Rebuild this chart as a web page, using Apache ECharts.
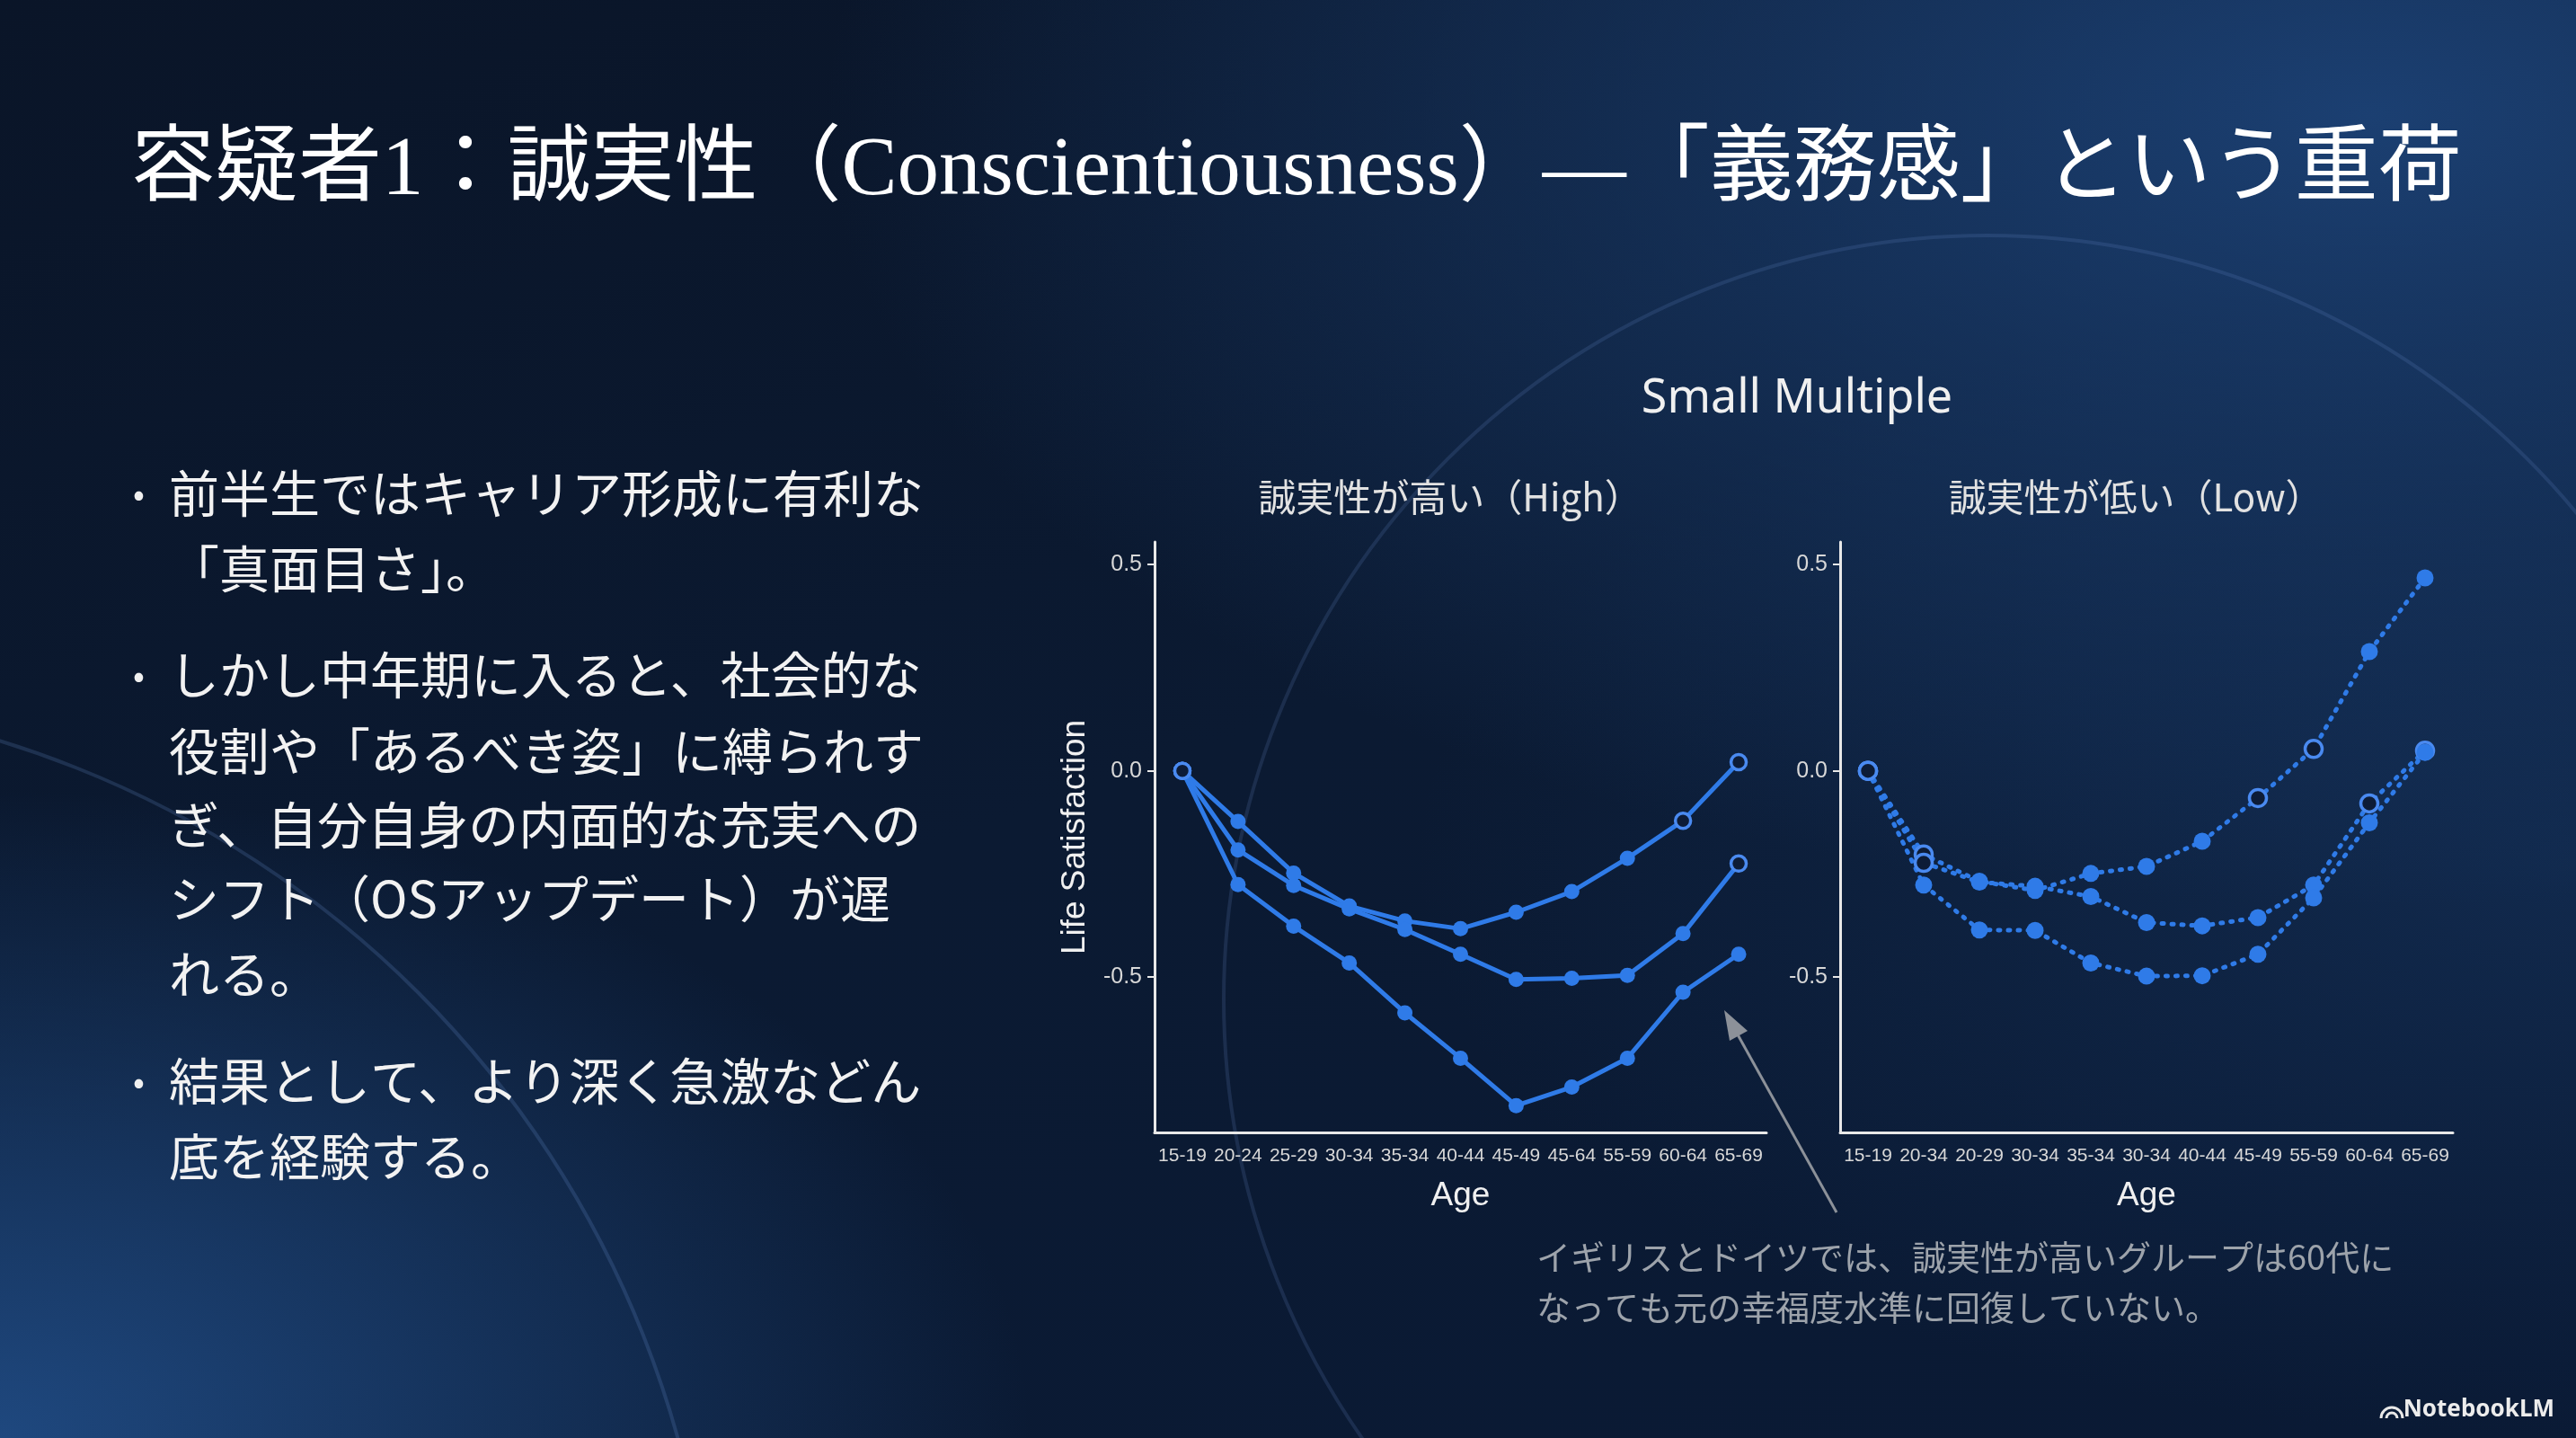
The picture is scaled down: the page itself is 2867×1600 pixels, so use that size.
<!DOCTYPE html>
<html>
<head>
<meta charset="utf-8">
<script src="https://cdn.jsdelivr.net/npm/echarts@6/dist/echarts.min.js"></script>
<style>
  html, body { margin: 0; padding: 0; width: 100%; height: 100%; overflow: hidden; }
  body {
    background:
      radial-gradient(ellipse 60% 55% at 92% 8%, rgba(30,70,125,0.85) 0%, rgba(20,50,95,0) 100%),
      radial-gradient(ellipse 40% 45% at 0% 100%, rgba(34,80,140,0.85) 0%, rgba(30,70,130,0) 100%),
      radial-gradient(ellipse 45% 40% at 100% 60%, rgba(20,48,88,0.7) 0%, rgba(20,48,88,0) 100%),
      linear-gradient(160deg, #0a1528 0%, #0b1a32 50%, #0a1a35 100%);
  }
  #chart { width: 2867px; height: 1600px; }
</style>
</head>
<body>
<div id="chart"></div>
<script>
// ---- data ----
const ageHigh = ['15-19','20-24','25-29','30-34','35-34','40-44','45-49','45-64','55-59','60-64','65-69'];
const ageLow  = ['15-19','20-34','20-29','30-34','35-34','30-34','40-44','45-49','55-59','60-64','65-69'];
const yTicks = [-0.5, 0, 0.5];

const high1 = [0, -0.123, -0.248, -0.328, -0.364, -0.383, -0.343, -0.293, -0.212, -0.121, 0.021];
const high2 = [0, -0.192, -0.278, -0.335, -0.385, -0.445, -0.506, -0.503, -0.496, -0.395, -0.225];
const high3 = [0, -0.276, -0.377, -0.466, -0.587, -0.697, -0.812, -0.767, -0.697, -0.537, -0.445];

const low1 = [0, -0.203, -0.268, -0.290, -0.249, -0.232, -0.171, -0.066, 0.053, 0.289, 0.468];
const low2 = [0, -0.223, -0.270, -0.280, -0.305, -0.368, -0.376, -0.356, -0.277, -0.079, 0.049];
const low3 = [0, -0.277, -0.386, -0.387, -0.466, -0.498, -0.497, -0.445, -0.308, -0.126, 0.045];

// indices drawn as hollow markers (style info)
const high1Open = [0, 9, 10], high2Open = [0, 10], high3Open = [0];
const low1Open = [0, 1, 7, 8], low2Open = [0, 1, 9, 10], low3Open = [0];

const titleText = '容疑者1：誠実性（Conscientiousness）—「義務感」という重荷';
const bulletLines = [
  ['前半生ではキャリア形成に有利な', '「真面目さ」。'],
  ['しかし中年期に入ると、社会的な', '役割や「あるべき姿」に縛られす', 'ぎ、自分自身の内面的な充実への', 'シフト（OSアップデート）が遅', 'れる。'],
  ['結果として、より深く急激などん', '底を経験する。']
];
const noteLines = ['イギリスとドイツでは、誠実性が高いグループは60代に', 'なっても元の幸福度水準に回復していない。'];

// ---- styling ----
const BLUE = '#2f7be8';
const CJK = "'Noto Sans CJK JP', 'Noto Sans', sans-serif";
const SANS = "'Liberation Sans', Arial, sans-serif";

function mkData(vals, openIdx) {
  return vals.map((v, i) => openIdx.indexOf(i) >= 0
    ? { value: v, itemStyle: { color: '#0d1c37', borderColor: '#4a8af0', borderWidth: 3.5 } }
    : v);
}

function mkX(idx, cats) {
  return {
    type: 'category', gridIndex: idx, data: cats, boundaryGap: true,
    axisLine: { onZero: false, lineStyle: { color: '#e8e8e8', width: 3 } },
    axisTick: { alignWithLabel: true, length: 8, lineStyle: { color: '#e8e8e8', width: 2 } },
    axisLabel: { interval: 0, color: '#d8d8d8', fontSize: 21, fontFamily: SANS, margin: 16 },
    name: 'Age', nameLocation: 'middle', nameGap: 52,
    nameTextStyle: { color: '#f0f0f0', fontSize: 37, fontFamily: SANS },
    splitLine: { show: false }
  };
}
function mkY(idx, withName) {
  const y = {
    type: 'value', gridIndex: idx, min: -0.877, max: 0.555,
    axisLine: { show: true, onZero: false, lineStyle: { color: '#e8e8e8', width: 3 } },
    axisTick: { show: true, customValues: yTicks, length: 8, lineStyle: { color: '#e8e8e8', width: 2 } },
    axisLabel: { customValues: yTicks, formatter: v => v.toFixed(1), color: '#d8d8d8', fontSize: 25, fontFamily: SANS, margin: 14 },
    splitLine: { show: false }
  };
  if (withName) {
    y.name = 'Life Satisfaction';
    y.nameLocation = 'middle';
    y.nameRotate = 90;
    y.nameGap = 70;
    y.nameTextStyle = { color: '#f0f0f0', fontSize: 37, fontFamily: SANS };
  }
  return y;
}
function mkSeries(vals, openIdx, gi, dotted) {
  return {
    type: 'line', xAxisIndex: gi, yAxisIndex: gi,
    data: mkData(vals, openIdx),
    symbol: 'circle', symbolSize: dotted ? 19 : 17,
    itemStyle: { color: BLUE },
    lineStyle: dotted
      ? { color: BLUE, width: 5, type: [2, 9], cap: 'round' }
      : { color: BLUE, width: 5 },
    z: 5
  };
}

const graphics = [];
// decorative arcs
graphics.push({ type: 'circle', z: -10, silent: true, shape: { cx: 2212, cy: 1112, r: 850 },
  style: { fill: 'none', stroke: 'rgba(110,150,215,0.17)', lineWidth: 4 } });
graphics.push({ type: 'circle', z: -10, silent: true, shape: { cx: -330, cy: 1900, r: 1125 },
  style: { fill: 'none', stroke: 'rgba(110,150,215,0.2)', lineWidth: 4 } });

// title
graphics.push({ type: 'text', x: 146, y: 192, style: {
  text: titleText, fill: '#ffffff', font: "93px 'Liberation Serif', 'Noto Sans CJK JP', serif",
  textAlign: 'left', textVerticalAlign: 'middle', align: 'left', verticalAlign: 'middle' } });

// bullets
const bulletY = [[549, 633], [751, 836, 918, 1000, 1084], [1203, 1287]];
bulletLines.forEach((lines, bi) => {
  graphics.push({ type: 'text', x: 148, y: bulletY[bi][0], style: {
    text: '•', fill: '#f0f0f0', font: '38px ' + CJK,
    textAlign: 'left', textVerticalAlign: 'middle', align: 'left', verticalAlign: 'middle' } });
  lines.forEach((ln, li) => {
    graphics.push({ type: 'text', x: 188, y: bulletY[bi][li], style: {
      text: ln, fill: '#f2f2f2', font: '56px ' + CJK,
      textAlign: 'left', textVerticalAlign: 'middle', align: 'left', verticalAlign: 'middle' } });
  });
});

// chart headings
graphics.push({ type: 'text', x: 2000, y: 444, style: {
  text: 'Small Multiple', fill: '#f0f0f0', font: "52px 'Noto Sans', sans-serif",
  textAlign: 'center', textVerticalAlign: 'middle', align: 'center', verticalAlign: 'middle' } });
graphics.push({ type: 'text', x: 1614, y: 553, style: {
  text: '誠実性が高い（High）', fill: '#e2e2e2', font: '42px ' + CJK,
  textAlign: 'center', textVerticalAlign: 'middle', align: 'center', verticalAlign: 'middle' } });
graphics.push({ type: 'text', x: 2377, y: 553, style: {
  text: '誠実性が低い（Low）', fill: '#e2e2e2', font: '42px ' + CJK,
  textAlign: 'center', textVerticalAlign: 'middle', align: 'center', verticalAlign: 'middle' } });

// annotation arrow
graphics.push({ type: 'line', z: 10, shape: { x1: 2044, y1: 1349, x2: 1930, y2: 1144 },
  style: { stroke: '#8c9199', lineWidth: 3 } });
graphics.push({ type: 'polygon', z: 10, shape: { points: [[1919, 1124], [1945, 1147], [1925, 1158]] },
  style: { fill: '#8c9199' } });

// annotation text
noteLines.forEach((ln, i) => {
  graphics.push({ type: 'text', x: 1710, y: 1399 + i * 56, style: {
    text: ln, fill: '#9da3ab', font: '38px ' + CJK,
    textAlign: 'left', textVerticalAlign: 'middle', align: 'left', verticalAlign: 'middle' } });
});

// NotebookLM mark
graphics.push({ type: 'arc', shape: { cx: 2662, cy: 1578, r: 12, startAngle: Math.PI, endAngle: 2 * Math.PI },
  style: { fill: 'none', stroke: '#e8e8e8', lineWidth: 3 } });
graphics.push({ type: 'arc', shape: { cx: 2662, cy: 1578, r: 6, startAngle: Math.PI, endAngle: 2 * Math.PI },
  style: { fill: 'none', stroke: '#e8e8e8', lineWidth: 3 } });
graphics.push({ type: 'text', x: 2843, y: 1569, style: {
  text: 'NotebookLM', fill: '#ececec', font: "bold 26px 'Noto Sans', sans-serif",
  textAlign: 'right', textVerticalAlign: 'middle', align: 'right', verticalAlign: 'middle' } });

const chart = echarts.init(document.getElementById('chart'), null, { width: 2867, height: 1600 });
chart.setOption({
  backgroundColor: 'transparent',
  animation: false,
  grid: [
    { left: 1285, top: 603, width: 681, height: 657, containLabel: false },
    { left: 2048, top: 603, width: 682, height: 657, containLabel: false }
  ],
  xAxis: [mkX(0, ageHigh), mkX(1, ageLow)],
  yAxis: [mkY(0, true), mkY(1, false)],
  series: [
    mkSeries(high1, high1Open, 0, false),
    mkSeries(high2, high2Open, 0, false),
    mkSeries(high3, high3Open, 0, false),
    mkSeries(low1, low1Open, 1, true),
    mkSeries(low2, low2Open, 1, true),
    mkSeries(low3, low3Open, 1, true)
  ],
  graphic: { elements: graphics }
});
</script>
</body>
</html>
